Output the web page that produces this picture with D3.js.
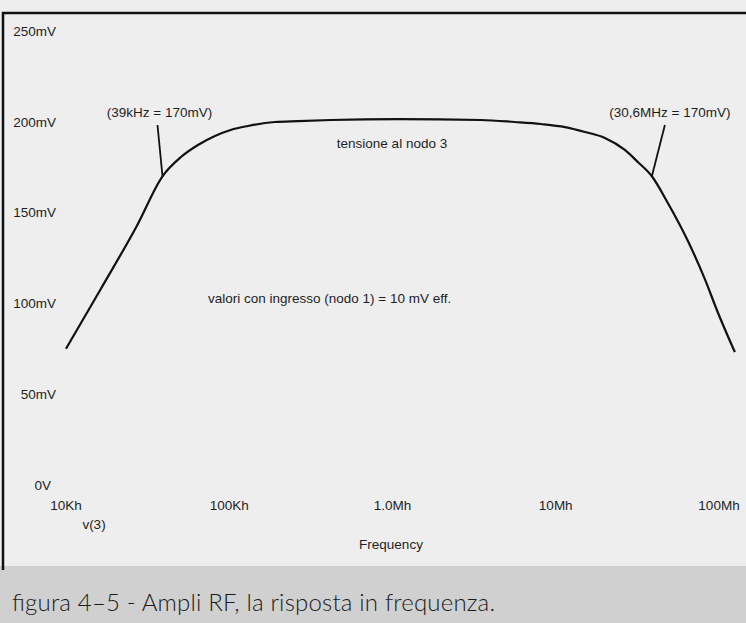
<!DOCTYPE html>
<meta charset="utf-8">
<style>
body { margin: 0; background: #fff; }
svg text { font-family: "Liberation Sans", Arial, sans-serif; font-size: 13.5px; fill: #1e1e1e; }
.caption { font-family: Lato, sans-serif; font-weight: 300; font-size: 24px; fill: #1a1a1a; }
</style>
<svg width="746" height="623"></svg>
<script src="https://d3js.org/d3.v7.min.js"></script>
<script>

// frequency (Hz) and v(3) in mV
var freqHz = [10e3, 16.2e3, 27.2e3, 39e3, 50.6e3, 64.3e3, 81.7e3, 102e3, 130e3, 190e3, 264e3,
              420e3, 1.08e6, 3.48e6, 5.6e6, 8.1e6, 11.4e6, 15.1e6, 20e6, 26.5e6, 31.8e6, 38.8e6,
              48.6e6, 64.4e6, 81.8e6, 98.4e6, 125e6];
var voltsMv = [75, 107.4, 142.8, 170, 180.6, 187.2, 192.2, 195.5, 197.7, 199.9, 200.4,
               201, 201.5, 201, 199.9, 198.8, 197.1, 194.4, 191.1, 184.5, 177.9, 170,
               155.3, 134.5, 113.5, 95, 73.2];

var xTicks = [1e4, 1e5, 1e6, 1e7, 1e8];
var xTickLabels = ["10Kh", "100Kh", "1.0Mh", "10Mh", "100Mh"];
var yTicks = [0, 50, 100, 150, 200, 250];
var yTickLabels = ["0V", "50mV", "100mV", "150mV", "200mV", "250mV"];

var markFreq = [39e3, 38.8e6];
var markMv = [170, 170];
var markText = ["(39kHz = 170mV)", "(30,6MHz = 170mV)"];

var svg = d3.select("svg"),
    width = +svg.attr("width"),
    height = +svg.attr("height");

// paper background
svg.append("rect").attr("width", width).attr("height", height).attr("fill", "#eeeeee");

// caption band
svg.append("rect")
    .attr("x", 0).attr("y", 566)
    .attr("width", width).attr("height", height - 566)
    .attr("fill", "#d0d0d0");

// frame
svg.append("path")
    .attr("d", "M3,570V13H746")
    .attr("fill", "none")
    .attr("stroke", "#111")
    .attr("stroke-width", 2.5);

var x = d3.scaleLog().domain([1e4, 1e8]).range([66, 719]);
var y = d3.scaleLinear().domain([0, 250]).range([485, 31]);

// y tick labels (no axis line in the original)
svg.append("g").selectAll("text")
    .data(yTicks)
    .enter().append("text")
      .attr("x", function(d) { return d === 0 ? 51 : 56; })
      .attr("y", function(d) { return y(d); })
      .attr("dy", "0.35em")
      .attr("text-anchor", "end")
      .text(function(d, i) { return yTickLabels[i]; });

// x tick labels
svg.append("g").selectAll("text")
    .data(xTicks)
    .enter().append("text")
      .attr("x", function(d) { return x(d); })
      .attr("y", 505)
      .attr("dy", "0.35em")
      .attr("text-anchor", "middle")
      .text(function(d, i) { return xTickLabels[i]; });

svg.append("text").attr("x", 94).attr("y", 524).attr("dy", "0.35em")
    .attr("text-anchor", "middle").text("v(3)");

svg.append("text").attr("x", 391).attr("y", 544).attr("dy", "0.35em")
    .attr("text-anchor", "middle").text("Frequency");

// the response curve
var line = d3.line()
    .x(function(d) { return x(d[0]); })
    .y(function(d) { return y(d[1]); })
    .curve(d3.curveMonotoneX);

svg.append("path")
    .datum(d3.zip(freqHz, voltsMv))
    .attr("d", line)
    .attr("fill", "none")
    .attr("stroke", "#111")
    .attr("stroke-width", 2.2);

// -3dB markers
var leadDx = [-5, 13];
var textDx = [-3, 18];
markFreq.forEach(function(f, i) {
  var px = x(f), py = y(markMv[i]);
  svg.append("line")
      .attr("x1", px).attr("y1", py)
      .attr("x2", px + leadDx[i]).attr("y2", 125)
      .attr("stroke", "#111")
      .attr("stroke-width", 1.8);
  svg.append("text")
      .attr("x", px + textDx[i])
      .attr("y", 112)
      .attr("dy", "0.35em")
      .attr("text-anchor", "middle")
      .text(markText[i]);
});

svg.append("text").attr("x", 392).attr("y", 143).attr("dy", "0.35em")
    .attr("text-anchor", "middle").text("tensione al nodo 3");

svg.append("text").attr("x", 208).attr("y", 298).attr("dy", "0.35em")
    .text("valori con ingresso (nodo 1) = 10 mV eff.");

svg.append("text")
    .attr("class", "caption")
    .attr("x", 12)
    .attr("y", 611)
    .attr("textLength", 483)
    .text("figura 4\u20135 - Ampli RF, la risposta in frequenza.");

</script>
